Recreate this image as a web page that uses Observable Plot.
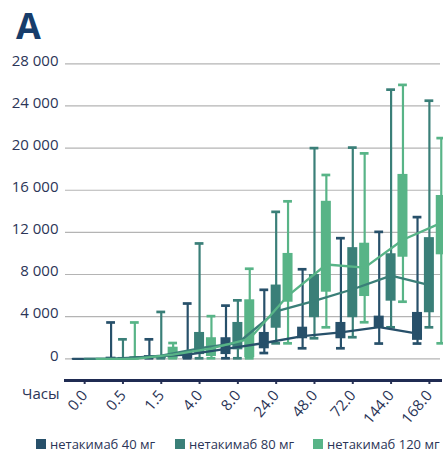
<!DOCTYPE html>
<html>
<head>
<meta charset="utf-8">
<script src="https://cdn.jsdelivr.net/npm/d3@7"></script>
<script src="https://cdn.jsdelivr.net/npm/@observablehq/plot@0.6"></script>
<style>
  html, body { margin: 0; padding: 0; background: #fff; }
  #wrap { position: relative; width: 443px; height: 454px; overflow: hidden; font-family: "Open Sans", sans-serif; }
  #title { position: absolute; left: 16px; top: 8px; font-size: 36px; line-height: 36px; font-weight: 700; color: #173d6b; }
  #chart { position: absolute; left: 0; top: 45px; }
  #legend { position: absolute; left: 0; top: 436px; width: 443px; height: 16px; font-size: 13px; line-height: 16px; color: #2b3557; white-space: nowrap; }
  .item { position: absolute; top: 0; height: 16px; display: flex; align-items: center; gap: 4px; }
  .sw { width: 10px; height: 10px; display: inline-block; }
</style>
</head>
<body>
<div id="wrap">
  <div id="title">A</div>
  <div id="chart"></div>
  <div id="legend"></div>
</div>
<script>
// Sampling times (hours) and dose groups
const times = ["0.0", "0.5", "1.5", "4.0", "8.0", "24.0", "48.0", "72.0", "144.0", "168.0"];
const doses = ["нетакимаб 40 мг", "нетакимаб 80 мг", "нетакимаб 120 мг"];
const doseColors = ["#27506a", "#3a7f78", "#58b487"];
const yTicks = [0, 4000, 8000, 12000, 16000, 20000, 24000, 28000];

// Concentration summaries per time point: whisker min/max, box q1/q3, median
const min40 = [0, 0, 0, 0, 0, 500, 950, 950, 1400, 1400];
const q1_40 = [0, 0, 0, 0, 400, 950, 1900, 1900, 2950, 1750];
const q3_40 = [0, 150, 300, 600, 2000, 2500, 3000, 3450, 4050, 4400];
const max40 = [0, 3400, 1800, 5200, 5000, 6500, 8450, 11400, 12000, 13400];
const med40 = [0, 0, 200, 400, 950, 1500, 2150, 2500, 3000, 2400];

const min80 = [0, 0, 0, 0, 0, 1420, 1900, 2000, 2940, 2940];
const q1_80 = [0, 0, 0, 400, 850, 2900, 3900, 3900, 5470, 4370];
const q3_80 = [0, 100, 300, 2500, 3450, 7000, 8000, 10550, 9970, 11500];
const max80 = [0, 1800, 4400, 10900, 5500, 13900, 19950, 20000, 25500, 24450];
const med80 = [0, 0, 300, 1000, 1500, 4500, 5500, 6600, 7900, 7000];

const min120 = [0, 0, 0, 0, 0, 1420, 2940, 3420, 5370, 1420];
const q1_120 = [0, 0, 0, 220, 100, 5370, 6320, 5910, 9640, 9870];
const q3_120 = [0, 200, 1100, 2000, 5600, 10000, 14950, 10970, 17500, 15500];
const max120 = [0, 3400, 1450, 4000, 8500, 14900, 17400, 19450, 25950, 20900];
const med120 = [0, 0, 400, 1000, 1900, 6000, 8950, 8650, 11300, 12900];

// Side-by-side placement of the three dose groups around each time tick (in tick units)
const doseOffsets = [-0.31, 0, 0.31];

const stats = [
  {min: min40, q1: q1_40, q3: q3_40, max: max40, med: med40},
  {min: min80, q1: q1_80, q3: q3_80, max: max80, med: med80},
  {min: min120, q1: q1_120, q3: q3_120, max: max120, med: med120}
];

const rows = [];
stats.forEach((s, d) => {
  times.forEach((t, i) => {
    rows.push({dose: doses[d], pos: i + doseOffsets[d], min: s.min[i], q1: s.q1[i], q3: s.q3[i], max: s.max[i], med: s.med[i]});
  });
});
const boxRows = rows.filter(r => r.max > 0);

const navy = "#2b3557";
const fmt = d => d3.format(",")(d).replace(/,/g, " ");

const chart = Plot.plot({
  width: 443,
  height: 387,
  marginLeft: 65,
  marginRight: 3,
  marginTop: 18.3,
  marginBottom: 52,
  style: {fontFamily: "Open Sans, sans-serif", background: "transparent"},
  x: {domain: [-0.5, 9.29]},
  y: {domain: [-2060, 28000]},
  color: {domain: doses, range: doseColors},
  marks: [
    Plot.gridY(yTicks, {stroke: "#b4b4b4", strokeOpacity: 1, strokeWidth: 1.2}),
    Plot.axisY(yTicks, {tickSize: 0, tickPadding: 7, tickFormat: fmt, fontSize: 15, color: navy, dy: -3, label: null}),
    Plot.axisX(times.map((_, i) => i), {tickFormat: i => times[i], tickRotate: -50, tickSize: 4, tickPadding: 8, strokeWidth: 2, fontSize: 15, color: navy, label: null}),
    Plot.frame({anchor: "bottom", stroke: "#1f2b52", strokeWidth: 3}),
    Plot.text(["Часы"], {frameAnchor: "bottom-left", textAnchor: "end", dx: -6, dy: 18, fontSize: 15, fill: navy}),
    // whiskers
    Plot.ruleX(boxRows, {x: "pos", y1: "min", y2: "max", stroke: "dose", strokeWidth: 2.2}),
    // whisker caps
    Plot.rect(boxRows, {x1: "pos", x2: "pos", y1: "max", y2: "max", fill: "dose", insetLeft: -4.4, insetRight: -4.4, insetTop: -1.35, insetBottom: -1.35}),
    Plot.rect(boxRows, {x1: "pos", x2: "pos", y1: "min", y2: "min", fill: "dose", insetLeft: -4.4, insetRight: -4.4, insetTop: -1.35, insetBottom: -1.35}),
    // interquartile boxes
    Plot.rect(boxRows, {x1: "pos", x2: "pos", y1: "q1", y2: "q3", fill: "dose", insetLeft: -5, insetRight: -5}),
    // median profiles
    Plot.line(rows, {x: "pos", y: "med", z: "dose", stroke: "dose", strokeWidth: 2.3})
  ]
});
document.getElementById("chart").appendChild(chart);

// legend entries placed under the plot
const legendLeft = [36, 175, 313];
const legend = d3.select("#legend");
doses.forEach((d, i) => {
  const item = legend.append("div").attr("class", "item").style("left", legendLeft[i] + "px");
  item.append("span").attr("class", "sw").style("background", doseColors[i]);
  item.append("span").text(d);
});
</script>
</body>
</html>
